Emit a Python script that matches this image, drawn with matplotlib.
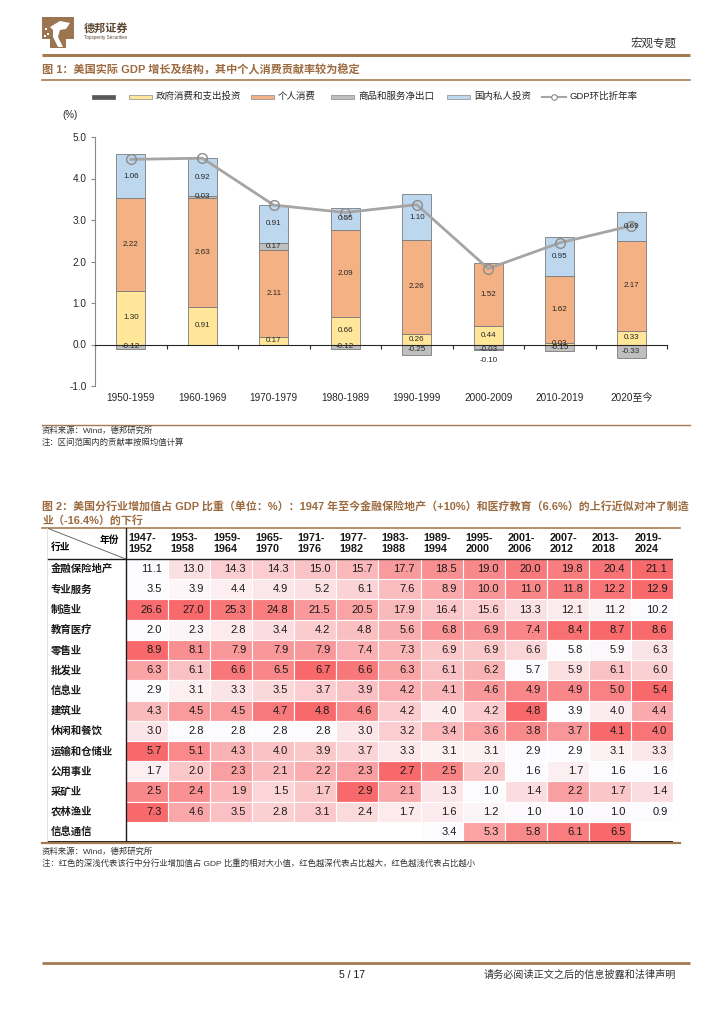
import matplotlib
matplotlib.use('Agg')
import matplotlib.pyplot as plt
from matplotlib.patches import Rectangle, Polygon
from matplotlib import transforms
import numpy as np

plt.rcParams['font.family'] = ['Liberation Sans', 'Noto Sans CJK SC', 'DejaVu Sans']

# ---- chart 1 data: contribution to real GDP growth (%)
periods = ['1950-1959', '1960-1969', '1970-1979', '1980-1989',
           '1990-1999', '2000-2009', '2010-2019', '2020至今']
gov = [1.30, 0.91, 0.17, 0.66, 0.26, 0.44, 0.03, 0.33]
personal = [2.22, 2.63, 2.11, 2.09, 2.26, 1.52, 1.62, 2.17]
net_export = [-0.12, 0.03, 0.17, -0.12, -0.25, -0.10, -0.15, -0.33]
private_inv = [1.06, 0.92, 0.91, 0.55, 1.10, -0.03, 0.95, 0.69]
gdp = [4.46, 4.49, 3.36, 3.18, 3.37, 1.83, 2.45, 2.86]
series_names = ['政府消费和支出投资', '个人消费', '商品和服务净出口', '国内私人投资']

# ---- chart 2 data: industry value added share of GDP (%)
year_cols = ['1947-\n1952', '1953-\n1958', '1959-\n1964', '1965-\n1970', '1971-\n1976',
             '1977-\n1982', '1983-\n1988', '1989-\n1994', '1995-\n2000', '2001-\n2006',
             '2007-\n2012', '2013-\n2018', '2019-\n2024']
industries = ['金融保险地产', '专业服务', '制造业', '教育医疗', '零售业', '批发业', '信息业',
              '建筑业', '休闲和餐饮', '运输和仓储业', '公用事业', '采矿业', '农林渔业', '信息通信']
nan = np.nan
shares = [
    [11.1, 13.0, 14.3, 14.3, 15.0, 15.7, 17.7, 18.5, 19.0, 20.0, 19.8, 20.4, 21.1],
    [3.5, 3.9, 4.4, 4.9, 5.2, 6.1, 7.6, 8.9, 10.0, 11.0, 11.8, 12.2, 12.9],
    [26.6, 27.0, 25.3, 24.8, 21.5, 20.5, 17.9, 16.4, 15.6, 13.3, 12.1, 11.2, 10.2],
    [2.0, 2.3, 2.8, 3.4, 4.2, 4.8, 5.6, 6.8, 6.9, 7.4, 8.4, 8.7, 8.6],
    [8.9, 8.1, 7.9, 7.9, 7.9, 7.4, 7.3, 6.9, 6.9, 6.6, 5.8, 5.9, 6.3],
    [6.3, 6.1, 6.6, 6.5, 6.7, 6.6, 6.3, 6.1, 6.2, 5.7, 5.9, 6.1, 6.0],
    [2.9, 3.1, 3.3, 3.5, 3.7, 3.9, 4.2, 4.1, 4.6, 4.9, 4.9, 5.0, 5.4],
    [4.3, 4.5, 4.5, 4.7, 4.8, 4.6, 4.2, 4.0, 4.2, 4.8, 3.9, 4.0, 4.4],
    [3.0, 2.8, 2.8, 2.8, 2.8, 3.0, 3.2, 3.4, 3.6, 3.8, 3.7, 4.1, 4.0],
    [5.7, 5.1, 4.3, 4.0, 3.9, 3.7, 3.3, 3.1, 3.1, 2.9, 2.9, 3.1, 3.3],
    [1.7, 2.0, 2.3, 2.1, 2.2, 2.3, 2.7, 2.5, 2.0, 1.6, 1.7, 1.6, 1.6],
    [2.5, 2.4, 1.9, 1.5, 1.7, 2.9, 2.1, 1.3, 1.0, 1.4, 2.2, 1.7, 1.4],
    [7.3, 4.6, 3.5, 2.8, 3.1, 2.4, 1.7, 1.6, 1.2, 1.0, 1.0, 1.0, 0.9],
    [nan, nan, nan, nan, nan, nan, nan, 3.4, 5.3, 5.8, 6.1, 6.5, nan],
]

W, H = 724, 1024
BROWN = '#A47A52'
TITLE_C = '#9C6A3E'
bar_colors = ['#FFE699', '#F4B183', '#BFBFBF', '#BDD7EE']


def fpos(l, t, r, b):
    return [l / W, 1 - b / H, (r - l) / W, (b - t) / H]


def fit_width(txt, width_px):
    # shrink a text until it spans the given pixel width
    r = fig.canvas.get_renderer()
    w = txt.get_window_extent(renderer=r).width
    txt.set_fontsize(txt.get_fontsize() * width_px / w)


fig = plt.figure(figsize=(W / 100, H / 100), dpi=100)
pg = fig.add_axes([0, 0, 1, 1])
pg.set_xlim(0, W)
pg.set_ylim(H, 0)
pg.axis('off')

# header
pg.add_patch(Rectangle((42, 17), 32, 22, fc='#9A7550', ec='none'))
pg.add_patch(Rectangle((50, 39), 16, 9, fc='#9A7550', ec='none'))
pg.add_patch(Polygon([(50, 27), (60, 21), (70, 23), (66, 29), (60, 30), (58, 37),
                      (63, 47), (58, 47), (53, 37), (53, 30)], fc='white', ec='none'))
for dx, dy in [(45, 28), (47, 33), (44, 35)]:
    pg.add_patch(Rectangle((dx, dy), 2, 2, fc='white', ec='none'))
pg.text(84, 28, '德邦证券', fontsize=8, fontweight='bold', color='#5C4632', va='center')
pg.text(84, 38, 'Topsperity Securities', fontsize=3.3, color='#5C4632', va='center')
pg.text(676, 44, '宏观专题', fontsize=8.3, color='#333333', ha='right', va='center')
pg.plot([42, 690], [54.5, 54.5], color=BROWN, lw=2.2, solid_capstyle='butt')

# chart 1 title + legend
t1 = pg.text(42, 70, '图 1：美国实际 GDP 增长及结构，其中个人消费贡献率较为稳定',
             fontsize=8.5, fontweight='bold', color=TITLE_C, va='center')
fit_width(t1, 316)
pg.plot([42, 690], [80, 80], color=BROWN, lw=1.2)

pg.add_patch(Rectangle((92, 94.5), 23, 4.5, fc='#595959', ec='#595959', lw=0.5))
leg_x = [129, 251, 331, 447]
for lx, name, col in zip(leg_x, series_names, bar_colors):
    pg.add_patch(Rectangle((lx, 94.5), 23, 4.5, fc=col, ec='#8a8a8a', lw=0.5))
    pg.text(lx + 27, 96.5, name, fontsize=6.8, va='center', color='#262626')
pg.plot([542, 566], [96.5, 96.5], color='#A5A5A5', lw=1.5)
pg.plot([554], [96.5], marker='o', ms=4, mfc='white', mec='#8c8c8c', mew=0.8)
pg.text(569, 96.5, 'GDP环比折年率', fontsize=6.8, va='center', color='#262626')
pg.text(62, 115, '(%)', fontsize=7, va='center', color='#262626')

# chart 1 bars
ax = fig.add_axes(fpos(95, 137, 667, 386))
x = np.arange(len(periods))
pos_base = np.zeros(len(x))
neg_base = np.zeros(len(x))
label_nudge = {(2, 5): -0.39}
for si, (vals, col) in enumerate(zip([gov, personal, net_export, private_inv], bar_colors)):
    v = np.array(vals)
    base = np.where(v >= 0, pos_base, neg_base)
    ax.bar(x, v, 0.4, bottom=base, color=col, edgecolor='#7a7a7a', lw=0.6, zorder=2)
    for xi, vi, bi in zip(x, v, base):
        ly = label_nudge.get((si, xi), bi + vi / 2)
        ax.text(xi, ly, f'{vi:.2f}', ha='center', va='center', fontsize=5.8,
                color='#262626', zorder=5)
    pos_base += np.where(v >= 0, v, 0)
    neg_base += np.where(v < 0, v, 0)

ax.plot(x, gdp, color='#A5A5A5', lw=2, marker='o', ms=7, mfc='none',
        mec='#8c8c8c', mew=1, zorder=4)

ax.set_xlim(-0.5, len(x) - 0.5)
ax.set_ylim(-1, 5)
ax.set_yticks(np.arange(-1, 5.1, 1))
ax.set_yticklabels([f'{t:.1f}' for t in np.arange(-1, 5.1, 1)], fontsize=7.2, color='#262626')
ax.set_xticks(np.arange(-0.5, len(x), 1))
ax.set_xticklabels([])
ax.tick_params(axis='x', length=3, width=0.8, color='#262626', direction='out')
ax.tick_params(axis='y', length=3, width=0.8, color='#898989', pad=3)
ax.spines['top'].set_visible(False)
ax.spines['right'].set_visible(False)
ax.spines['left'].set_color('#898989')
ax.spines['bottom'].set_position(('data', 0))
ax.spines['bottom'].set_color('#262626')
ax.spines['bottom'].set_zorder(3)
ax.patch.set_visible(False)
trans = transforms.blended_transform_factory(ax.transData, ax.transAxes)
for xi, p in zip(x, periods):
    ax.text(xi, -0.048, p, transform=trans, ha='center', va='center', fontsize=7.2,
            color='#262626')

pg.plot([42, 690], [425, 425], color=BROWN, lw=1)
pg.text(42, 431, '资料来源：Wind，德邦研究所', fontsize=6, va='center', color='#333333')
pg.text(42, 443, '注：区间范围内的贡献率按照均值计算', fontsize=6, va='center', color='#333333')

# chart 2 title
t2 = pg.text(42, 506, '图 2：美国分行业增加值占 GDP 比重（单位：%）：1947 年至今金融保险地产（+10%）和医疗教育（6.6%）的上行近似对冲了制造',
             fontsize=8.5, fontweight='bold', color=TITLE_C, va='center')
fit_width(t2, 640)
pg.text(42, 520, '业（-16.4%）的下行', fontsize=t2.get_fontsize(), fontweight='bold',
        color=TITLE_C, va='center')
pg.plot([42, 680], [528, 528], color=BROWN, lw=1.2)
pg.plot([42, 680], [842.5, 842.5], color=BROWN, lw=1.6)

# chart 2 table
LW = (125.7 - 47) / 42.1
HH = 31 / 20.2
tb = fig.add_axes(fpos(47, 528, 673.3, 842))
tb.set_xlim(-LW, len(year_cols))
tb.set_ylim(len(industries), -HH)
tb.axis('off')
white = np.array([252, 252, 255]) / 255
red = np.array([248, 105, 107]) / 255
for r, (name, vals) in enumerate(zip(industries, shares)):
    v = np.array(vals, dtype=float)
    lo, hi = np.nanmin(v), np.nanmax(v)
    for c, val in enumerate(v):
        if np.isnan(val):
            continue
        t = (val - lo) / (hi - lo)
        tb.add_patch(Rectangle((c, r), 1, 1, fc=white * (1 - t) + red * t,
                               ec='white', lw=0.8))
        tb.text(c + 0.86, r + 0.5, f'{val:.1f}', ha='right', va='center',
                fontsize=8, color='#1a1a1a')
    tb.text(-LW + 0.08, r + 0.5, name, ha='left', va='center', fontsize=7.5,
            fontweight='bold', color='#1a1a1a')
for c, lab in enumerate(year_cols):
    tb.text(c + 0.07, -HH / 2, lab, ha='left', va='center', fontsize=7.8,
            fontweight='bold', color='#1a1a1a', linespacing=1.15)
tb.plot([-LW, 0], [-HH, 0], color='#555555', lw=0.6)
tb.text(-LW + 0.08, -HH * 0.38, '行业', fontsize=7, fontweight='bold', ha='left', va='center')
tb.text(-0.15, -HH * 0.62, '年份', fontsize=7, fontweight='bold', ha='right', va='center')
tb.plot([-LW, len(year_cols)], [0, 0], color='#1a1a1a', lw=1)
tb.plot([0, 0], [-HH, len(industries)], color='#1a1a1a', lw=1)
tb.plot([-LW, len(year_cols)], [len(industries), len(industries)], color='#1a1a1a', lw=1.3)
tb.plot([-LW, -LW], [-HH, len(industries)], color='#dddddd', lw=0.6)

pg.text(42, 852, '资料来源：Wind，德邦研究所', fontsize=6, va='center', color='#333333')
pg.text(42, 863, '注：红色的深浅代表该行中分行业增加值占 GDP 比重的相对大小值，红色越深代表占比越大，红色越浅代表占比越小',
        fontsize=6, va='center', color='#333333')

# footer
pg.plot([42, 690], [963, 963], color=BROWN, lw=2, solid_capstyle='butt')
pg.text(352, 975, '5 / 17', fontsize=7.5, ha='center', va='center', color='#1a1a1a')
pg.text(676, 975, '请务必阅读正文之后的信息披露和法律声明', fontsize=7.3, ha='right',
        va='center', color='#333333')

fig.savefig('out.png', dpi=100)
